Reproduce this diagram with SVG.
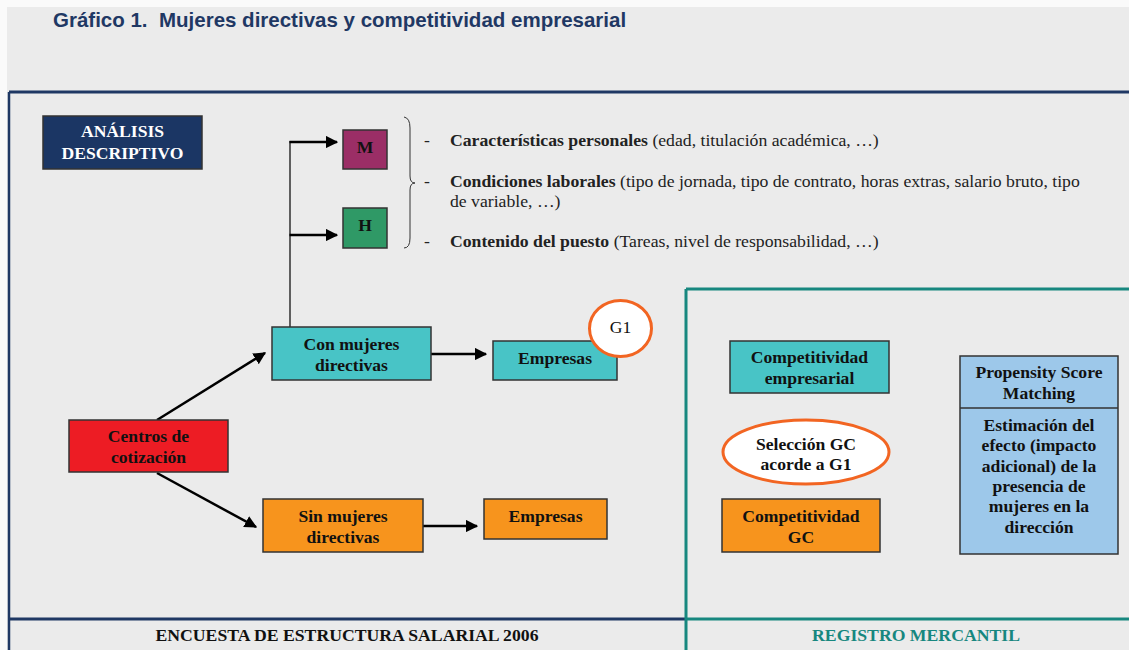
<svg xmlns="http://www.w3.org/2000/svg" width="1129" height="650" viewBox="0 0 1129 650">
<defs>
<marker id="ah" viewBox="0 0 10 10" refX="9" refY="5" markerWidth="5" markerHeight="5" orient="auto" markerUnits="strokeWidth">
<path d="M0,0 L10,5 L0,10 z" fill="#000"/>
</marker>
<style>
.bx{stroke:#333;stroke-width:1.5}
.t{font-family:"Liberation Serif","Times New Roman",serif;font-weight:bold;font-size:17.6px;fill:#111;text-anchor:middle}
.d{font-family:"Liberation Serif","Times New Roman",serif;font-size:17.7px;fill:#222}
.d tspan.b{font-weight:bold}
.con{stroke:#000;stroke-width:2.5;fill:none}
.teal{fill:#48c4c6}
.orng{fill:#f7941d}
</style>
</defs>
<rect x="0" y="0" width="1129" height="650" fill="#fafafa"/>
<rect x="7" y="7" width="1122" height="643" fill="#ebebeb"/>
<text x="53" y="27" font-family="Liberation Sans,Arial,sans-serif" font-weight="bold" font-size="20.5" fill="#1f3864" xml:space="preserve">Gráfico 1.  Mujeres directivas y competitividad empresarial</text>

<g id="frame">
<line x1="9" y1="92" x2="1129" y2="92" stroke="#1f3864" stroke-width="3"/>
<line x1="9" y1="92" x2="9" y2="650" stroke="#1f3864" stroke-width="2.5"/>
<line x1="9" y1="619" x2="686" y2="619" stroke="#1f3864" stroke-width="3"/>
<line x1="686" y1="619" x2="1129" y2="619" stroke="#17877f" stroke-width="3"/>
<line x1="686" y1="289" x2="1129" y2="289" stroke="#17877f" stroke-width="3"/>
<line x1="686" y1="289" x2="686" y2="650" stroke="#17877f" stroke-width="3"/>
</g>

<g id="connectors">
<line x1="290" y1="327" x2="290" y2="141" stroke="#000" stroke-width="1.2"/>
<line class="con" x1="289.5" y1="142" x2="337" y2="142" marker-end="url(#ah)"/>
<line class="con" x1="289.5" y1="235" x2="337" y2="235" marker-end="url(#ah)"/>
<line class="con" x1="157" y1="420" x2="265" y2="353" marker-end="url(#ah)"/>
<line class="con" x1="157" y1="473" x2="256" y2="527" marker-end="url(#ah)"/>
<line class="con" x1="431" y1="354" x2="486" y2="354" marker-end="url(#ah)"/>
<line class="con" x1="423" y1="526" x2="477" y2="526" marker-end="url(#ah)"/>
</g>

<g id="analisis">
<rect x="43" y="116" width="159" height="53" fill="#1b3664" class="bx"/>
<text class="t" x="122.5" y="137" style="fill:#fff">ANÁLISIS</text>
<text class="t" x="122.5" y="159" style="fill:#fff">DESCRIPTIVO</text>
</g>
<g id="m">
<rect x="343" y="130" width="44" height="39" fill="#9b2e66" class="bx"/>
<text class="t" x="365" y="153">M</text>
</g>
<g id="h">
<rect x="343" y="208" width="44" height="40" fill="#2f9966" class="bx"/>
<text class="t" x="365" y="231">H</text>
</g>

<g id="variables">
<path d="M404,117 Q410,118 410,128 L410,176 Q410,183 415,183 Q410,183 410,190 L410,238 Q410,248 404,248" fill="none" stroke="#333" stroke-width="1"/>
<text class="d" x="424" y="146">-</text>
<text class="d" x="424" y="187">-</text>
<text class="d" x="424" y="247">-</text>
<text class="d" x="450" y="146"><tspan class="b">Características personales</tspan> (edad, titulación académica, …)</text>
<text class="d" x="450" y="187"><tspan class="b">Condiciones laborales</tspan> (tipo de jornada, tipo de contrato, horas extras, salario bruto, tipo</text>
<text class="d" x="450" y="207">de variable, …)</text>
<text class="d" x="450" y="247"><tspan class="b">Contenido del puesto</tspan> (Tareas, nivel de responsabilidad, …)</text>
</g>

<g id="centros">
<rect x="69" y="420" width="159" height="52" fill="#ed1c24" class="bx"/>
<text class="t" x="148.5" y="442">Centros de</text>
<text class="t" x="148.5" y="463">cotización</text>
</g>
<g id="con-mujeres">
<rect x="272" y="327" width="159" height="53" class="bx teal"/>
<text class="t" x="351.5" y="350">Con mujeres</text>
<text class="t" x="351.5" y="371">directivas</text>
</g>
<g id="empresas-1">
<rect x="493" y="341" width="124" height="39" class="bx teal"/>
<text class="t" x="555" y="364">Empresas</text>
</g>
<g id="g1">
<ellipse cx="620.5" cy="328.5" rx="31" ry="28" fill="#fff" stroke="#f26522" stroke-width="3"/>
<text class="t" x="620.5" y="333" style="font-weight:normal">G1</text>
</g>
<g id="sin-mujeres">
<rect x="263" y="499" width="160" height="53" class="bx orng"/>
<text class="t" x="343" y="522">Sin mujeres</text>
<text class="t" x="343" y="543">directivas</text>
</g>
<g id="empresas-2">
<rect x="484" y="499" width="123" height="40" class="bx orng"/>
<text class="t" x="545.5" y="522">Empresas</text>
</g>

<g id="competitividad-empresarial">
<rect x="730" y="341" width="159" height="52" class="bx teal"/>
<text class="t" x="809.5" y="363">Competitividad</text>
<text class="t" x="809.5" y="384">empresarial</text>
</g>
<g id="seleccion-gc">
<ellipse cx="806" cy="452" rx="83" ry="32" fill="#fff" stroke="#f26522" stroke-width="3"/>
<text class="t" x="806" y="450">Selección GC</text>
<text class="t" x="806" y="470">acorde a G1</text>
</g>
<g id="competitividad-gc">
<rect x="722" y="499" width="158" height="53" class="bx orng"/>
<text class="t" x="801" y="522">Competitividad</text>
<text class="t" x="801" y="543">GC</text>
</g>
<g id="psm">
<rect x="960" y="356" width="158" height="198" fill="#9dc8ea" class="bx"/>
<line x1="960" y1="408" x2="1118" y2="408" stroke="#333" stroke-width="1.5"/>
<text class="t" x="1039" y="378">Propensity Score</text>
<text class="t" x="1039" y="399">Matching</text>
<text class="t" x="1039" y="431">Estimación del</text>
<text class="t" x="1039" y="451">efecto (impacto</text>
<text class="t" x="1039" y="472">adicional) de la</text>
<text class="t" x="1039" y="492">presencia de</text>
<text class="t" x="1039" y="512">mujeres en la</text>
<text class="t" x="1039" y="533">dirección</text>
</g>

<text class="t" x="347" y="641" style="font-size:17.7px">ENCUESTA DE ESTRUCTURA SALARIAL 2006</text>
<text class="t" x="916" y="641" style="font-size:17.7px;fill:#17877f">REGISTRO MERCANTIL</text>
</svg>
